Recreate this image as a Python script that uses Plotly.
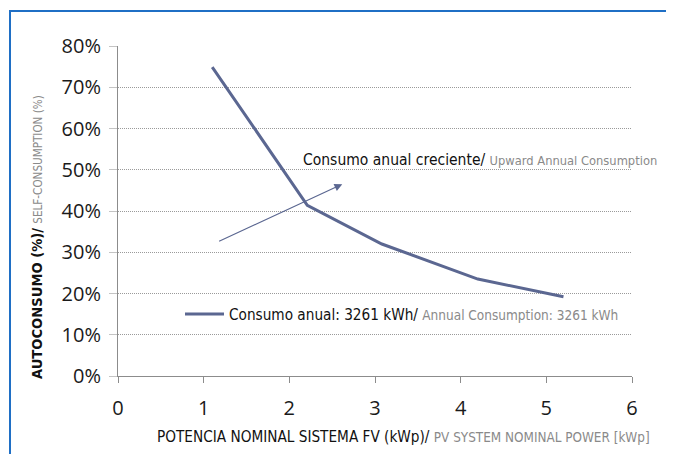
import plotly.graph_objects as go

# Data
power_kwp = [1.1, 2.21, 3.08, 4.2, 5.2]
self_consumption_pct = [74.9, 41.4, 32.0, 23.5, 19.2]
series_name_es = "Consumo anual: 3261 kWh/"
series_name_en = "Annual Consumption: 3261 kWh"
x_ticks = [0, 1, 2, 3, 4, 5, 6]
y_ticks = [0, 10, 20, 30, 40, 50, 60, 70, 80]
y_tick_labels = ["0%", "10%", "20%", "30%", "40%", "50%", "60%", "70%", "80%"]
arrow_tail = (1.163, 32.5)
arrow_head = (2.618, 46.5)

LINE = "#5b6791"
GRAY = "#8a8a8a"
COND = "DejaVu Sans Condensed"
TICKF = "Open Sans"

OFF = 8  # page body margin
W, H = 674 - OFF, 454 - OFF
L, R, T, B = 118 - OFF, 42, 46 - OFF, 78
pw, ph = W - L - R, H - T - B

def px(xp):
    return (xp - OFF - L) / pw

def py(yp):
    return (H - B - (yp - OFF)) / ph

fig = go.Figure()
fig.add_trace(go.Scatter(
    x=power_kwp, y=self_consumption_pct, mode="lines",
    line=dict(color=LINE, width=3),
    name=f"{series_name_es} <span style='color:{GRAY};font-size:13.5px'>{series_name_en}</span>",
))

fig.update_layout(
    width=W, height=H,
    margin=dict(l=L, r=R, t=T, b=B, pad=0, autoexpand=False),
    paper_bgcolor="white", plot_bgcolor="white",
    showlegend=True,
    legend=dict(x=px(180), y=py(314), xanchor="left", yanchor="middle",
                bgcolor="rgba(0,0,0,0)", itemwidth=39,
                font=dict(family=COND, size=15.2, color="#111")),
    xaxis=dict(range=[0, 6], tickvals=x_ticks, showgrid=False, zeroline=False,
               showline=True, linecolor="#8c8c8c", linewidth=1,
               ticks="outside", ticklen=6, tickcolor="#8c8c8c",
               ticklabelstandoff=8, automargin=False,
               tickfont=dict(family=TICKF, size=20, color="#1a1a1a"),
               fixedrange=True),
    yaxis=dict(range=[0, 80], tickvals=y_ticks, ticktext=y_tick_labels,
               showgrid=True, gridcolor="#9a9a9a", griddash="1px,1px", gridwidth=1,
               zeroline=False, showline=True, linecolor="#8c8c8c", linewidth=1,
               ticks="outside", ticklen=8, tickcolor="#c4c4c4",
               ticklabelstandoff=4, automargin=False,
               tickfont=dict(family=TICKF, size=20, color="#1a1a1a"),
               fixedrange=True),
)

# Blue frame (left and top)
fig.add_shape(type="line", xref="paper", yref="paper",
              x0=px(10), x1=px(10), y0=py(10), y1=py(460),
              line=dict(color="#1f6fc5", width=2))
fig.add_shape(type="line", xref="paper", yref="paper",
              x0=px(9), x1=px(680), y0=py(11), y1=py(11),
              line=dict(color="#1f6fc5", width=2))

# Arrow
fig.add_annotation(x=arrow_head[0], y=arrow_head[1], ax=arrow_tail[0], ay=arrow_tail[1],
                   xref="x", yref="y", axref="x", ayref="y", text="",
                   showarrow=True, arrowhead=2, arrowsize=1.3, arrowwidth=1.2,
                   arrowcolor=LINE)

# Arrow label
fig.add_annotation(x=px(301), y=py(160), xref="paper", yref="paper",
                   xanchor="left", yanchor="middle", showarrow=False,
                   text=f"Consumo anual creciente/ <span style='color:{GRAY};font-size:12.8px'>Upward Annual Consumption</span>",
                   font=dict(family=COND, size=15.5, color="#111"))

# X title
fig.add_annotation(x=px(155), y=py(437), xref="paper", yref="paper",
                   xanchor="left", yanchor="middle", showarrow=False,
                   text=f"POTENCIA NOMINAL SISTEMA FV (kWp)/ <span style='color:{GRAY};font-size:13.4px'>PV SYSTEM NOMINAL POWER [kWp]</span>",
                   font=dict(family=COND, size=15.2, color="#111"))

# Y title
fig.add_annotation(x=px(36), y=py(237), xref="paper", yref="paper",
                   xanchor="center", yanchor="middle", showarrow=False, textangle=-90,
                   text=f"<b>AUTOCONSUMO (%)/</b> <span style='color:{GRAY};font-size:11.6px'>SELF-CONSUMPTION (%)</span>",
                   font=dict(family=COND, size=14.6, color="#111"))

fig.write_html("out.html")
